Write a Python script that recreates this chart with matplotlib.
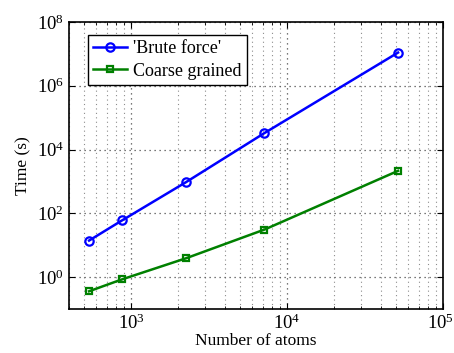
import matplotlib
matplotlib.use("Agg")
import matplotlib.pyplot as plt
import matplotlib.transforms as mtransforms
from matplotlib.ticker import LogLocator, NullFormatter, NullLocator

atoms = [538, 875, 2250, 7170, 51500]
brute = [14, 60, 950, 3.3e4, 1.1e7]
coarse = [0.36, 0.85, 3.9, 31, 2150]
labels = ["'Brute force'", "Coarse grained"]

plt.rcParams['font.family'] = ['Liberation Serif', 'DejaVu Serif']
plt.rcParams['mathtext.fontset'] = 'stix'

fig = plt.figure(figsize=(4.54, 3.53), dpi=100)
ax = fig.add_axes([69/454, 1-309/353, (443-69)/454, (309-22)/353])

ax.loglog(atoms, brute, '-o', color=(0, 0, 1), lw=1.8, ms=6, mfc='none', mew=1.6, label=labels[0])
ax.loglog(atoms, coarse, '-s', color=(0, 0.5, 0), lw=1.8, ms=4.5, mfc='none', mew=1.6, label=labels[1])

ax.set_xlim(400, 1e5)
ax.set_ylim(1e-1, 1e8)
ax.set_yticks([1e0, 1e2, 1e4, 1e6, 1e8])
ax.yaxis.set_minor_locator(NullLocator())
ax.set_xticks([1e3, 1e4, 1e5])
ax.xaxis.set_minor_locator(LogLocator(base=10, subs=tuple(range(2, 10)), numticks=20))
ax.xaxis.set_minor_formatter(NullFormatter())

ax.grid(True, which='major', axis='both', linestyle=(0, (1, 3)), color='0.3', lw=0.9)
ax.grid(True, which='minor', axis='x', linestyle=(0, (1, 3)), color='0.55', lw=0.8)
ax.tick_params(which='both', direction='in', top=True, right=True, labelsize=13.5)
ax.tick_params(which='major', length=4)
ax.tick_params(which='minor', length=2)
for s in ax.spines.values():
    s.set_linewidth(1.2)

ax.set_xlabel('Number of atoms', fontsize=12.5, labelpad=0)
ax.set_ylabel('Time (s)', fontsize=12.5, labelpad=4)

leg = ax.legend(loc='upper left', fontsize=13, fancybox=False, edgecolor='black',
                framealpha=1, borderpad=0.3, handlelength=1.9, handletextpad=0.3,
                labelspacing=0.3, borderaxespad=0, bbox_to_anchor=(0.05, 0.955))
leg.get_frame().set_linewidth(1.0)

# nudge the rightmost x tick label slightly left so it stays inside the canvas
fig.canvas.draw()
last_tick = ax.xaxis.get_major_ticks()[-1]
last_tick.label1.set_transform(last_tick.label1.get_transform()
                               + mtransforms.ScaledTranslation(-3/100, 0, fig.dpi_scale_trans))

fig.savefig('out.png', dpi=100)
